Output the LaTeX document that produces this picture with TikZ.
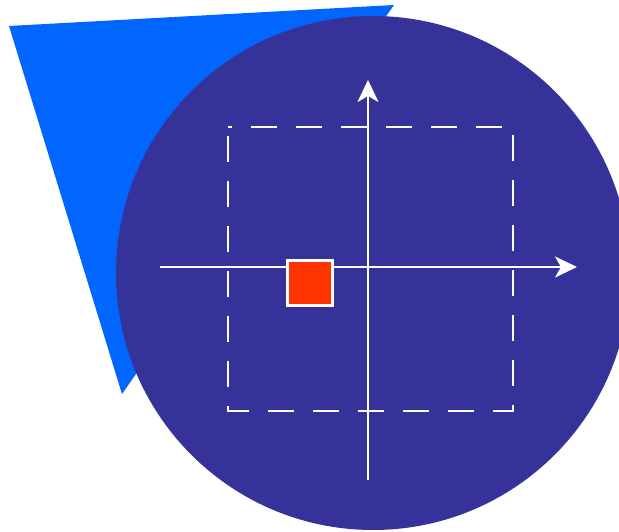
\documentclass[tikz,border=0pt]{standalone}
\usetikzlibrary{arrows.meta}
\definecolor{triblue}{HTML}{0066FF}
\definecolor{disc}{HTML}{353399}
\definecolor{redsq}{HTML}{FF3300}
\tikzset{
  axis/.style={draw=white, line width=2.6pt, -{Stealth[length=22pt,width=21pt,inset=6pt]}},
  frame/.style={draw=white, line width=2.5pt, dash pattern=on 26pt off 19pt, dash phase=22pt},
  marker/.style={fill=redsq, draw=white, line width=2.5pt, minimum size=45pt, inner sep=0pt, outer sep=0pt}
}
\begin{document}
\begin{tikzpicture}[x=1pt,y=-1pt]
\useasboundingbox (0,0) rectangle (619,532);
% triangle
\fill[triblue] (9,26) -- (394,5) -- (122,394) -- cycle;
% disc
\fill[disc] (373,273) circle[radius=257];
% dashed frame
\draw[frame] (228,127) -- (513,127) -- (513,411) -- (228,411) -- cycle;
% axes
\coordinate (xs) at (160,267);
\coordinate (xe) at (577,267);
\coordinate (ys) at (368,480);
\coordinate (ye) at (368,80);
\draw[axis] (xs) -- (xe);
\draw[axis] (ys) -- (ye);
% red square
\node[marker] (sq) at (310,283) {};
\end{tikzpicture}
\end{document}
